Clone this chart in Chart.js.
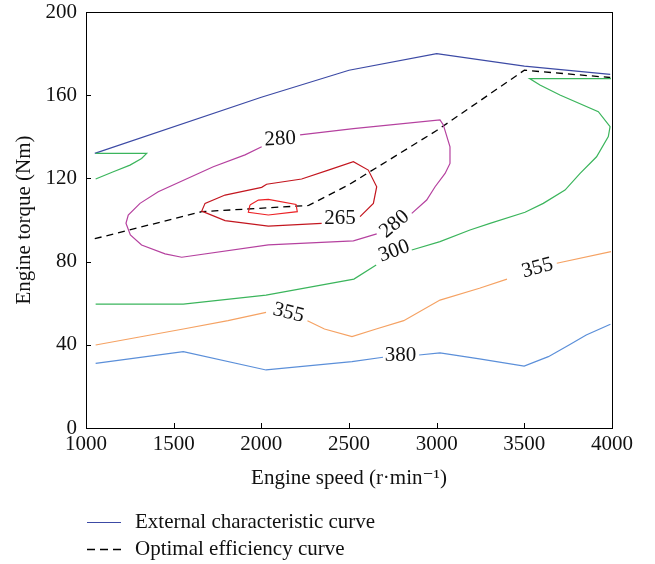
<!DOCTYPE html>
<html lang="en">
<head>
    <meta charset="UTF-8">
    <title>Engine efficiency map</title>
    <script src="https://cdn.jsdelivr.net/npm/chart.js"></script>
    <style>
        body {
            margin: 0;
            background: #ffffff;
        }
        #wrap {
            width: 655px;
            height: 564px;
        }
    </style>
</head>
<body>
<div id="wrap"><canvas id="mapChart" width="655" height="564"></canvas></div>
<script>
// axis ticks
const speedTicks = [1000, 1500, 2000, 2500, 3000, 3500, 4000];
const torqueTicks = [0, 40, 80, 120, 160, 200];

// external characteristic curve
const extSpeed = [1050, 2000, 2500, 3000, 3500, 3990];
const extTorque = [132, 159, 172, 180, 174, 170];

// optimal efficiency curve
const optSpeed = [1050, 1660, 2270, 2500, 3000, 3500, 3990];
const optTorque = [91, 104, 107, 117, 143, 172, 168.5];

// fuel consumption contours (null = gap for the label)
const c265aSpeed = [2563, 2639, 2658, 2610, 2525, 2382, 2230, 2030, 2002, 1793, 1679, 1660, 1793, 2040, 2344];
const c265aTorque = [101.6, 108, 116, 124, 128, 124, 119.7, 117.2, 115.7, 112, 108, 104.3, 99.7, 97.1, 98.4];

const c265bSpeed = [1935, 1983, 2040, 2198, 2205, 2040, 1926, 1935];
const c265bTorque = [107.2, 109.6, 109.9, 107.5, 104, 102.4, 103.7, 107.2];

const c280Speed = [2221, 2525, 3019, 3038, 3076, 3076, 3048, 2991, 2943, 2858, 2760, 2658, 2525, 2040, 1546, 1451, 1317, 1253, 1228, 1241, 1308, 1412, 1726, 1907, 2002];
const c280Torque = [140.9, 143.9, 148.1, 145.7, 135.2, 127.2, 122.4, 116, 109.6, 103.2, null, 93.3, 90, 88, 82.1, 83.7, 88, 92.8, 98.4, 102.4, 108, 113.6, 125.6, 131.3, 135.2];

const c300aSpeed = [1055, 1346, 1317, 1251, 1156, 1055];
const c300aTorque = [132, 132, 129.6, 126.4, 123.2, 119.7];

const c300bSpeed = [3994, 3530, 3589, 3703, 3922, 3989, 3979, 3912, 3818, 3732, 3608, 3504, 3304, 3190, 3019, 2858, 2750, 2655, 2528, 2027, 1555, 1055];
const c300bTorque = [168, 168, 164.9, 160.1, 152.1, 144.9, 140.1, 130.4, 122.4, 114.4, 108, 103.7, 98.4, 95.2, 89.6, 85.6, null, 78.4, 71.6, 63.9, 59.6, 59.6];

const c355Speed = [1055, 1555, 1810, 2027, 2150, 2263, 2360, 2517, 2655, 2812, 3019, 3244, 3401, 3570, 3685, 3994];
const c355Torque = [39.9, 47.6, 51.6, 55.6, null, 51.6, 47.6, 43.9, 47.6, 51.6, 61.5, 67.2, 71.6, null, 79.2, 84.8];

const c380Speed = [1055, 1555, 2027, 2517, 2694, 2790, 2900, 3019, 3244, 3499, 3637, 3755, 3853, 3991];
const c380Torque = [31.1, 36.7, 27.9, 31.9, 34, null, 35.1, 36.1, 33.2, 29.8, 34.3, 39.9, 44.7, 49.9];

// contour labels
const labelText = ['280', '265', '280', '300', '355', '355', '380'];
const labelSpeed = [2107, 2449, 2760, 2757, 2155, 3575, 2794];
const labelTorque = [138.9, 100.5, 98.0, 85.0, 55.3, 76.9, 34.9];
const labelAngle = [-3, 0, -40, -20, 14, -15, 0];

const legendNames = ['External characteristic curve', 'Optimal efficiency curve'];

const serif = '"Liberation Serif", "DejaVu Serif", serif';

function pts(xs, ys) {
    return xs.map((v, i) => ({ x: v, y: ys[i] }));
}

function line(label, xs, ys, color, extra) {
    return Object.assign({
        label: label,
        data: pts(xs, ys),
        showLine: true,
        borderColor: color,
        backgroundColor: color,
        borderWidth: 1.2,
        pointRadius: 0,
        spanGaps: false,
        tension: 0
    }, extra || {});
}

const datasets = [
    line('265 outer', c265aSpeed, c265aTorque, '#c3161f'),
    line('265 inner', c265bSpeed, c265bTorque, '#ec2226'),
    line('280', c280Speed, c280Torque, '#b5419f'),
    line('300 a', c300aSpeed, c300aTorque, '#3bb55c'),
    line('300 b', c300bSpeed, c300bTorque, '#3bb55c'),
    line('355', c355Speed, c355Torque, '#f5a263'),
    line('380', c380Speed, c380Torque, '#5b8fd9'),
    line(legendNames[0], extSpeed, extTorque, '#3c4aa5'),
    line(legendNames[1], optSpeed, optTorque, '#000000', { borderDash: [7, 5], borderWidth: 1.3 })
];

const extras = {
    id: 'extras',
    afterDatasetsDraw(chart) {
        const { ctx, chartArea: a, scales: { x, y } } = chart;
        ctx.save();
        // frame and inward ticks
        ctx.strokeStyle = '#000';
        ctx.lineWidth = 1;
        ctx.strokeRect(Math.round(a.left) + 0.5, Math.round(a.top) + 0.5, Math.round(a.width), Math.round(a.height));
        ctx.beginPath();
        speedTicks.slice(1, -1).forEach(v => {
            const px = Math.round(x.getPixelForValue(v)) + 0.5;
            ctx.moveTo(px, a.bottom);
            ctx.lineTo(px, a.bottom - 5);
        });
        torqueTicks.slice(1, -1).forEach(v => {
            const py = Math.round(y.getPixelForValue(v)) + 0.5;
            ctx.moveTo(a.left, py);
            ctx.lineTo(a.left + 5, py);
        });
        ctx.stroke();

        // contour labels
        ctx.font = '21px ' + serif;
        ctx.fillStyle = '#111';
        ctx.textAlign = 'center';
        ctx.textBaseline = 'middle';
        labelText.forEach((t, i) => {
            ctx.save();
            ctx.translate(x.getPixelForValue(labelSpeed[i]), y.getPixelForValue(labelTorque[i]));
            ctx.rotate(labelAngle[i] * Math.PI / 180);
            ctx.fillText(t, 0, 0);
            ctx.restore();
        });

        // legend below the axis
        const items = datasets.filter(d => legendNames.includes(d.label));
        items.forEach((d, i) => {
            const ly = 522 + i * 27;
            ctx.beginPath();
            ctx.strokeStyle = d.borderColor;
            ctx.lineWidth = d.borderWidth;
            ctx.setLineDash(d.borderDash ? [8, 5] : []);
            ctx.moveTo(87, ly + 0.5);
            ctx.lineTo(121, ly + 0.5);
            ctx.stroke();
            ctx.setLineDash([]);
            ctx.textAlign = 'left';
            ctx.fillStyle = '#111';
            ctx.fillText(d.label, 135, ly);
        });
        ctx.restore();
    }
};

new Chart(document.getElementById('mapChart'), {
    type: 'scatter',
    data: { datasets: datasets },
    options: {
        responsive: false,
        animation: false,
        devicePixelRatio: 1,
        layout: {
            padding: { top: 12, right: 43, left: 0, bottom: 73 }
        },
        plugins: {
            legend: { display: false },
            tooltip: { enabled: false }
        },
        scales: {
            x: {
                type: 'linear',
                min: 1000,
                max: 4000,
                afterBuildTicks: s => { s.ticks = speedTicks.map(v => ({ value: v })); },
                afterFit: s => { s.height = 63; },
                grid: { display: false, drawTicks: false },
                border: { display: false },
                ticks: {
                    padding: 4,
                    color: '#111',
                    callback: v => String(v),
                    font: { family: serif, size: 21 }
                },
                title: {
                    display: true,
                    text: 'Engine speed (r\u00b7min\u207b\u00b9)',
                    color: '#111',
                    padding: { top: 0, bottom: 0 },
                    font: { family: serif, size: 21 }
                }
            },
            y: {
                min: 0,
                max: 200,
                afterBuildTicks: s => { s.ticks = torqueTicks.map(v => ({ value: v })); },
                afterFit: s => { s.width = 86; s.paddingTop = 0; s.paddingBottom = 0; },
                grid: { display: false, drawTicks: false },
                border: { display: false },
                ticks: {
                    padding: 9,
                    color: '#111',
                    callback: v => String(v),
                    font: { family: serif, size: 21, lineHeight: 1 }
                },
                title: {
                    display: true,
                    text: 'Engine torque (Nm)',
                    color: '#111',
                    padding: { top: 12, bottom: 0 },
                    font: { family: serif, size: 21 }
                }
            }
        }
    },
    plugins: [extras]
});
</script>
</body>
</html>
